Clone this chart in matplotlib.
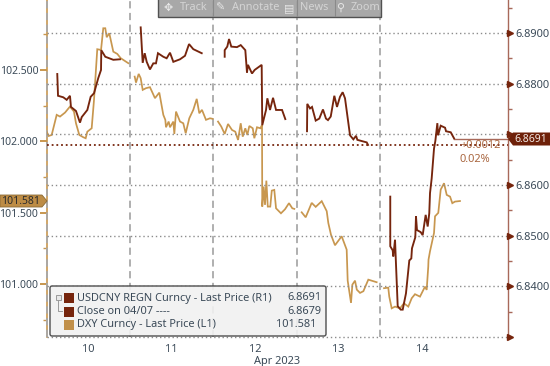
import numpy as np
import matplotlib
matplotlib.use("Agg")
import matplotlib.pyplot as plt
from matplotlib.patches import FancyBboxPatch, Polygon, Rectangle
from matplotlib.transforms import blended_transform_factory

plt.rcParams['font.family'] = ['Noto Sans', 'DejaVu Sans']

# USDCNY (right axis), one segment per trading session
cny_x1 = [9.629, 9.638, 9.701, 9.742, 9.781, 9.793, 9.853, 9.901, 9.922, 9.989, 10.029, 10.069,
          10.120, 10.153, 10.156, 10.204, 10.300, 10.380]
cny_y1 = [6.8819, 6.8776, 6.8773, 6.8768, 6.8776, 6.8754, 6.8746, 6.8723, 6.8734, 6.8748, 6.8774, 6.8781,
          6.8811, 6.8827, 6.8866, 6.8853, 6.8847, 6.8848]
cny_x2 = [10.628, 10.652, 10.676, 10.700, 10.739, 10.779, 10.811, 10.835, 10.899, 10.939, 10.979, 11.019,
          11.099, 11.159, 11.207, 11.258, 11.359]
cny_y2 = [6.8911, 6.8841, 6.8860, 6.8843, 6.8828, 6.8840, 6.8840, 6.8860, 6.8853, 6.8850, 6.8861, 6.8843,
          6.8848, 6.8855, 6.8878, 6.8868, 6.8860]
cny_x3 = [11.634, 11.634, 11.665, 11.686, 11.713, 11.781, 11.826, 11.881, 11.901, 11.913, 11.961, 11.993,
          12.077, 12.084, 12.129, 12.145, 12.177, 12.213, 12.249, 12.321, 12.360]
cny_y3 = [6.8853, 6.8866, 6.8873, 6.8888, 6.8873, 6.8872, 6.8876, 6.8866, 6.8822, 6.8837, 6.8820, 6.8827,
          6.8837, 6.8718, 6.8748, 6.8771, 6.8748, 6.8772, 6.8748, 6.8748, 6.8730]
cny_x4 = [12.620, 12.623, 12.656, 12.680, 12.724, 12.767, 12.811, 12.847, 12.871, 12.904, 12.947, 12.979,
          13.015, 13.047, 13.075, 13.135, 13.175, 13.207, 13.223, 13.335, 13.351]
cny_y4 = [6.8706, 6.8760, 6.8751, 6.8754, 6.8727, 6.8731, 6.8749, 6.8731, 6.8728, 6.8735, 6.8776, 6.8754,
          6.8774, 6.8783, 6.8771, 6.8698, 6.8690, 6.8697, 6.8689, 6.8684, 6.8679]
cny_x5 = [13.617, 13.617, 13.646, 13.653, 13.674, 13.682, 13.706, 13.742, 13.766, 13.805, 13.829, 13.845,
          13.869, 13.877, 13.917, 13.925, 13.937, 13.981, 14.005, 14.041, 14.065, 14.084, 14.093, 14.113,
          14.141, 14.157, 14.181, 14.189, 14.221, 14.273, 14.285, 14.341, 14.381]
cny_y5 = [6.8577, 6.8479, 6.8471, 6.8459, 6.8492, 6.8458, 6.8361, 6.8354, 6.8354, 6.8386, 6.8425, 6.8451,
          6.8455, 6.8475, 6.8497, 6.8538, 6.8511, 6.8507, 6.8501, 6.8541, 6.8518, 6.8544, 6.8584, 6.8613,
          6.8672, 6.8687, 6.8722, 6.8698, 6.8717, 6.8713, 6.8706, 6.8704, 6.8692]

# DXY (left axis)
dxy_x1 = [9.502, 9.526, 9.562, 9.602, 9.622, 9.662, 9.722, 9.781, 9.829, 9.853, 9.893, 9.941, 9.969, 9.989,
          10.041, 10.069, 10.108, 10.153, 10.180, 10.204, 10.221, 10.252, 10.300, 10.348, 10.389, 10.480]
dxy_y1 = [102.067, 102.037, 102.044, 102.138, 102.185, 102.173, 102.201, 102.243, 102.208, 102.126, 102.044,
          102.028, 102.021, 102.067, 102.091, 102.290, 102.645, 102.640, 102.792, 102.792, 102.729, 102.757,
          102.628, 102.612, 102.582, 102.547]
dxy_x2 = [10.556, 10.572, 10.604, 10.628, 10.652, 10.692, 10.739, 10.799, 10.851, 10.899, 10.923, 10.931,
          10.963, 10.979, 11.019, 11.031, 11.051, 11.099, 11.138, 11.167, 11.210, 11.258, 11.299, 11.330,
          11.362, 11.410, 11.458, 11.490]
dxy_y2 = [102.453, 102.411, 102.472, 102.442, 102.360, 102.372, 102.379, 102.302, 102.341, 102.185, 102.150,
          102.098, 102.138, 102.098, 102.138, 102.051, 102.208, 102.138, 102.126, 102.056, 102.161, 102.220,
          102.297, 102.196, 102.220, 102.150, 102.161, 102.157]
dxy_x3 = [11.554, 11.593, 11.634, 11.674, 11.722, 11.761, 11.794, 11.826, 11.850, 11.881, 11.905, 11.929,
          11.970, 11.989, 12.021, 12.061, 12.081, 12.084, 12.101, 12.117, 12.133, 12.150, 12.180, 12.198,
          12.228, 12.249, 12.308, 12.356, 12.404, 12.444, 12.468]
dxy_y3 = [102.138, 102.103, 102.051, 102.121, 102.079, 102.067, 102.009, 102.126, 102.032, 102.091, 102.044,
          102.107, 102.091, 102.021, 102.098, 102.091, 102.114, 101.542, 101.682, 101.554, 101.724, 101.542,
          101.542, 101.654, 101.659, 101.530, 101.495, 101.523, 101.566, 101.530, 101.526]
dxy_x4 = [12.556, 12.604, 12.676, 12.724, 12.796, 12.856, 12.875, 12.907, 12.955, 13.035, 13.095, 13.107,
          13.147, 13.163, 13.195, 13.216, 13.255, 13.295, 13.354, 13.454]
dxy_y4 = [101.502, 101.467, 101.568, 101.540, 101.580, 101.510, 101.427, 101.345, 101.271, 101.334, 101.240,
          101.023, 100.867, 100.995, 101.023, 100.960, 100.937, 100.949, 101.030, 101.012]
dxy_x5 = [13.542, 13.593, 13.605, 13.634, 13.674, 13.734, 13.781, 13.833, 13.874, 13.913, 13.973, 14.033,
          14.053, 14.072, 14.075, 14.093, 14.141, 14.153, 14.192, 14.221, 14.261, 14.293, 14.333, 14.360,
          14.392, 14.452]
dxy_y5 = [100.970, 100.974, 100.911, 100.829, 100.841, 100.829, 100.864, 100.841, 100.900, 100.928, 100.911,
          100.981, 100.958, 101.121, 101.170, 101.229, 101.357, 101.474, 101.498, 101.661, 101.706, 101.624,
          101.612, 101.566, 101.577, 101.581]

cny_segments = [(cny_x1, cny_y1), (cny_x2, cny_y2), (cny_x3, cny_y3), (cny_x4, cny_y4), (cny_x5, cny_y5)]
dxy_segments = [(dxy_x1, dxy_y1), (dxy_x2, dxy_y2), (dxy_x3, dxy_y3), (dxy_x4, dxy_y4), (dxy_x5, dxy_y5)]

cny_last = 6.8691
cny_close = 6.8679
dxy_last = 101.581

day_ticks = [10, 11, 12, 13, 14]
day_breaks = [9.5, 10.5, 11.5, 12.5, 13.5]
left_major = [101.0, 101.5, 102.0, 102.5]
left_minor = [100.75, 101.25, 101.75, 102.25, 102.75]
right_major = [6.83, 6.84, 6.85, 6.86, 6.87, 6.88, 6.89]
right_minor = [6.835, 6.845, 6.855, 6.865, 6.875, 6.885, 6.895]
right_labels = ["", "6.8400", "6.8500", "6.8600", "", "6.8800", "6.8900"]

CNY_COLOR = "#76250d"
DXY_COLOR = "#c8974f"
TEXT_COLOR = "#3b4a58"
RIGHT_AXIS = "#a8695a"
LEFT_AXIS = "#c8974f"
DELTA_COLOR = "#a9663f"
FS = 7.9
FS_LEFT = 7.5

fig = plt.figure(figsize=(5.5, 3.66), dpi=100)
ax = fig.add_axes([46.5 / 550, 29 / 366, 461 / 550, 337 / 366])
ax.set_xlim(9.5, 15.021)
ax.set_ylim(100.628, 102.99)
ax2 = ax.twinx()
ax2.set_ylim(6.83, 6.8965)

for sp in ["top", "bottom"]:
    ax.spines[sp].set_visible(False)
    ax2.spines[sp].set_visible(False)
ax2.spines["left"].set_visible(False)
ax.spines["right"].set_visible(False)
ax.spines["left"].set_color(LEFT_AXIS)
ax.spines["left"].set_linewidth(1.2)
ax2.spines["right"].set_color(RIGHT_AXIS)
ax2.spines["right"].set_linewidth(1.0)

# grid follows the right axis
for v in right_major:
    ax2.axhline(v, color="#8c8c8c", lw=1.0, ls=(0, (1, 2)), zorder=1, clip_on=False)
for d in day_breaks:
    ax.axvline(d, color="#a9a9a9", lw=1.3, ls=(0, (4, 2.5)), zorder=3, clip_on=False)

ax.set_xticks(day_ticks)
ax.set_xticklabels([str(d) for d in day_ticks])
ax.tick_params(axis="x", length=0, pad=5, labelsize=FS, labelcolor=TEXT_COLOR)
ax.set_xlabel("Apr 2023", fontsize=FS, color=TEXT_COLOR, labelpad=1)

ax.set_yticks(left_major)
ax.set_yticklabels([f"{v:.3f}" for v in left_major])
ax.set_yticks(left_minor, minor=True)
ax.tick_params(axis="y", which="major", length=5, width=1.4, color=LEFT_AXIS, pad=1,
               labelsize=FS_LEFT, labelcolor=TEXT_COLOR)
ax.tick_params(axis="y", which="minor", length=3, width=1.0, color=LEFT_AXIS)

ax2.set_yticks(right_major)
ax2.set_yticklabels(right_labels)
ax2.set_yticks(right_minor, minor=True)
ax2.tick_params(axis="y", which="major", length=0, pad=6, labelsize=FS, labelcolor=TEXT_COLOR)
ax2.tick_params(axis="y", which="minor", length=3, width=1.0, color=RIGHT_AXIS)
trans = blended_transform_factory(ax2.transAxes, ax2.transData)
ax2.plot([1.006] * len(right_major), right_major, ls="none", marker=">", ms=4.5, color=CNY_COLOR,
         transform=trans, clip_on=False, zorder=6)

for xs, ys in dxy_segments:
    ax.plot(xs, ys, color=DXY_COLOR, lw=1.25, zorder=4, solid_joinstyle="miter")
ax2.axhline(cny_close, color=CNY_COLOR, lw=1.3, ls=(0, (1, 1.6)), zorder=2)
ax2.plot([cny_x5[-1], 15.021], [cny_last, cny_last], color=RIGHT_AXIS, lw=1.0, zorder=4)
for xs, ys in cny_segments:
    ax2.plot(xs, ys, color=CNY_COLOR, lw=1.35, zorder=5, solid_joinstyle="miter")

# overlay in pixel space for the toolbar, legend box and value flags
ov = fig.add_axes([0, 0, 1, 1], zorder=10)
ov.set_xlim(0, 550)
ov.set_ylim(366, 0)
ov.axis("off")

# Bloomberg toolbar strip
ov.add_patch(Rectangle((158, -2), 223, 18.5, fc="#a3a3a3", ec="#4a4a4a", lw=1.0, alpha=0.95))
for bx in [213, 297, 335]:
    ov.plot([bx, bx], [0, 16], color="#8a8a8a", lw=0.8)
for tx, label, ix, icon in [(180, "Track", 168, "\u2725"), (232, "Annotate", 221, "\u270e"),
                            (300, "News", 289, "\u25a4"), (351, "Zoom", 340, "\u26b2")]:
    ov.text(tx, 8, label, fontsize=FS, color="#d4d4d4", va="center", ha="left")
    ov.text(ix, 8, icon, fontsize=FS, color="#e6e6e6", va="center", ha="center", family="DejaVu Sans")

# legend box
ov.add_patch(FancyBboxPatch((50, 286), 276, 50, boxstyle="round,pad=0,rounding_size=2",
                            fc="#f1f1f1", ec="#3c3c3c", lw=1.0, alpha=0.9))
legend_names = ["USDCNY REGN Curncy - Last Price (R1)", "Close on 04/07 ----", "DXY Curncy - Last Price (L1)"]
legend_values = ["6.8691", "6.8679", "101.581"]
legend_value_x = [321, 321, 316]
legend_colors = [CNY_COLOR, CNY_COLOR, "#c1904a"]
for i, y in enumerate([298, 311.5, 324.5]):
    ov.add_patch(Rectangle((63.5, y - 5), 10, 10, fc=legend_colors[i], ec="none"))
    ov.text(77, y, legend_names[i], fontsize=FS, color=TEXT_COLOR, va="center", ha="left")
    ov.text(legend_value_x[i], y, legend_values[i], fontsize=FS, color=TEXT_COLOR, va="center", ha="right")
ov.add_patch(Rectangle((55.5, 294.5), 5, 5, fc="#e8e8e8", ec="#9a9a9a", lw=0.7))
ov.plot([58, 58, 62], [300, 311, 311], color="#9a9a9a", lw=0.7)

# flags
ov.add_patch(Polygon([(508, 139), (513, 132.5), (550, 132.5), (550, 145.5), (513, 145.5)], fc="#6e2109", ec="none"))
ov.text(531, 139.3, f"{cny_last:.4f}", fontsize=FS_LEFT, color="#f4e9e4", va="center", ha="center")
ov.add_patch(Polygon([(0, 195), (42, 195), (47, 201), (42, 207), (0, 207)], fc="#bd8c45", ec="#8a6a35", lw=0.6))
ov.text(21, 201.3, f"{dxy_last:.3f}", fontsize=FS_LEFT, color="#2c2c2c", va="center", ha="center")

ov.text(460, 146, "+0.0012", fontsize=FS, color=DELTA_COLOR, va="center", ha="left")
ov.text(460, 159, "0.02%", fontsize=FS, color=DELTA_COLOR, va="center", ha="left")

fig.savefig("out.png", dpi=100)
